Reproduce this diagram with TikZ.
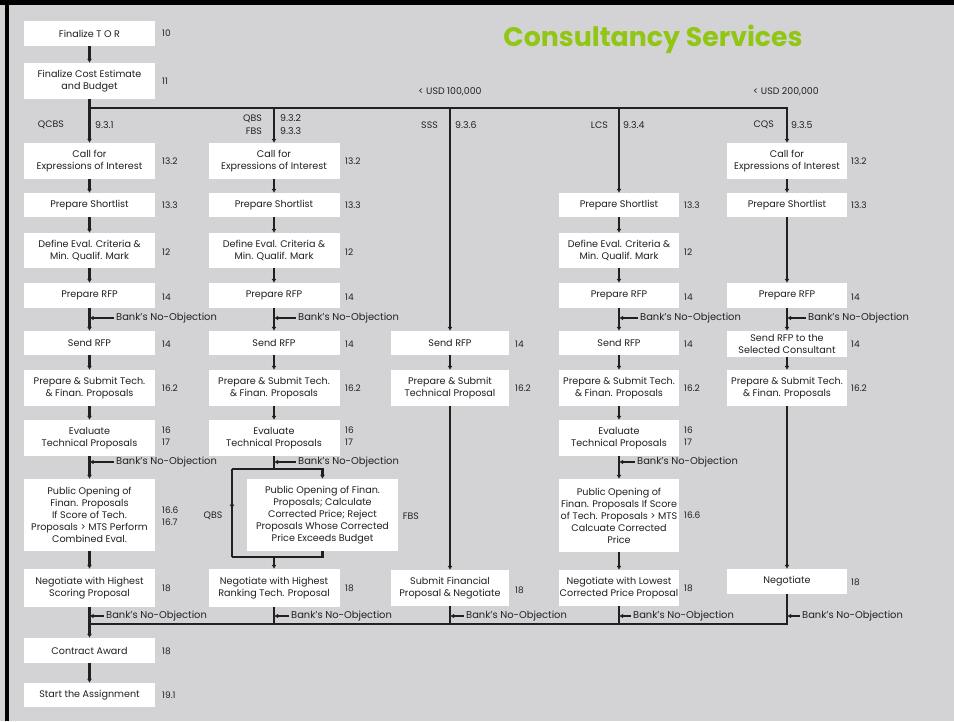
\documentclass[tikz,border=0pt]{standalone}
\usepackage{fontspec}
\setmainfont{Poppins}
\usetikzlibrary{arrows.meta,decorations.markings}
\definecolor{bggray}{RGB}{211,211,213}
\definecolor{titlegreen}{RGB}{145,198,20}
\definecolor{ink}{RGB}{35,31,32}
\begin{document}
\begin{tikzpicture}[x=1pt,y=-1pt,
  box/.style={fill=white,inner sep=0pt,minimum width=131pt,align=center,
    text=ink,font=\fontsize{9.6}{12}\selectfont},
  narrow/.style={minimum width=120pt},
  one/.style={minimum height=25pt},
  two/.style={minimum height=36pt},
  num/.style={anchor=west,inner sep=0pt,align=left,text=ink,
    font=\fontsize{9}{12}\selectfont},
  lab/.style={inner sep=0pt,text=ink,font=\fontsize{9.4}{12.5}\selectfont},
  nobj/.style={anchor=west,inner sep=0pt,text=ink,font=\fontsize{9.9}{12}\selectfont},
  line/.style={draw=ink,line width=2.6pt,line join=miter},
  flow/.style={line,-{Latex[length=4pt,width=5pt]}},
  noarr/.style={draw=ink,line width=1.2pt,shorten <=2pt,-{Latex[length=4pt,width=4.5pt]}},
  midarrow/.style={postaction={decorate},decoration={markings,
    mark=at position 0.45 with {\arrow{Latex[length=4pt,width=5pt]}}}}]
  \useasboundingbox (0,0) rectangle (954,721);
  \fill[bggray] (0,0) rectangle (954,721);
  \fill[black] (0,0) rectangle (954,5);
  \fill[black] (5,0) rectangle (9,721);
  \node[text=titlegreen,font=\fontsize{26.8}{32}\selectfont\bfseries] (title) at (653,39) {Consultancy Services};
  \coordinate (top) at (0,108);
  \coordinate (bot) at (0,624);
  \node[lab] (usd1) at (450,92) {< USD 100,000};
  \node[lab] (usd2) at (786,92) {< USD 200,000};
  % QCBS
  \node[box,one] (tor) at (89.5,33.5) {Finalize T O R};
  \node[num] (torr) at (162,33.5) {10};
  \node[box,two] (cost) at (89.5,81) {Finalize Cost Estimate\\and Budget};
  \node[num] (costr) at (162,81) {11};
  \node[lab,anchor=east] (m1) at (64,125) {QCBS};
  \node[lab,anchor=west] (m1r) at (95,125) {9.3.1};
  \node[box,two] (a1eoi) at (89.5,161) {Call for\\Expressions of Interest};
  \node[num] (a1eoir) at (162,161) {13.2};
  \node[box,one,minimum height=24pt] (a1sl) at (89.5,205) {Prepare Shortlist};
  \node[num] (a1slr) at (162,205) {13.3};
  \node[box,two,minimum height=35pt] (a1crit) at (89.5,250.5) {Define Eval. Criteria \&\\Min. Qualif. Mark};
  \node[num] (a1critr) at (162,252) {12};
  \node[box,one] (a1rfp) at (89.5,295.5) {Prepare RFP};
  \node[num] (a1rfpr) at (162,297) {14};
  \node[box,one,minimum height=24pt] (a1send) at (89.5,343) {Send RFP};
  \node[num] (a1sendr) at (162,344) {14};
  \node[box,two] (a1sub) at (89.5,388) {Prepare \& Submit Tech.\\\& Finan. Proposals};
  \node[num] (a1subr) at (162,388) {16.2};
  \node[box,two] (a1eval) at (89.5,438) {Evaluate\\Technical Proposals};
  \node[num] (a1evalr) at (162,436) {16\\17};
  \node[box,minimum height=72pt] (a1open) at (89.5,515) {Public Opening of\\Finan. Proposals\\If Score of Tech.\\Proposals > MTS Perform\\Combined Eval.};
  \node[num] (a1openr) at (162,516) {16.6\\16.7};
  \node[box,minimum height=38pt] (a1neg) at (89.5,588) {Negotiate with Highest\\Scoring Proposal};
  \node[num] (a1negr) at (162,588) {18};
  \node[box,one] (award) at (89.5,650.5) {Contract Award};
  \node[num] (awardr) at (162,651) {18};
  \node[box,one,minimum height=24pt] (start) at (89.5,695) {Start the Assignment};
  \node[num] (startr) at (162,695) {19.1};
  % QBS / FBS
  \node[lab,anchor=east,align=right] (m2) at (262,124.5) {QBS\\FBS};
  \node[lab,anchor=west,align=left] (m2r) at (280,124.5) {9.3.2\\9.3.3};
  \node[box,two] (a2eoi) at (274,161) {Call for\\Expressions of Interest};
  \node[num] (a2eoir) at (345,161) {13.2};
  \node[box,one,minimum height=24pt] (a2sl) at (274,205) {Prepare Shortlist};
  \node[num] (a2slr) at (345,205) {13.3};
  \node[box,two,minimum height=35pt] (a2crit) at (274,250.5) {Define Eval. Criteria \&\\Min. Qualif. Mark};
  \node[num] (a2critr) at (345,252) {12};
  \node[box,one] (a2rfp) at (274,295.5) {Prepare RFP};
  \node[num] (a2rfpr) at (345,297) {14};
  \node[box,one,minimum height=24pt] (a2send) at (274,343) {Send RFP};
  \node[num] (a2sendr) at (345,344) {14};
  \node[box,two] (a2sub) at (274,388) {Prepare \& Submit Tech.\\\& Finan. Proposals};
  \node[num] (a2subr) at (345,388) {16.2};
  \node[box,two] (a2eval) at (274,438) {Evaluate\\Technical Proposals};
  \node[num] (a2evalr) at (345,436) {16\\17};
  \node[box,minimum width=151pt,minimum height=72pt] (a2open) at (322.5,515) {Public Opening of Finan.\\Proposals; Calculate\\Corrected Price; Reject\\Proposals Whose Corrected\\Price Exceeds Budget};
  \node[lab] (qbs) at (213,516) {QBS};
  \node[lab] (fbs) at (411,516) {FBS};
  \node[box,minimum height=38pt] (a2neg) at (274,588) {Negotiate with Highest\\Ranking Tech. Proposal};
  \node[num] (a2negr) at (345,588) {18};
  \coordinate (q1) at (232,469);
  \coordinate (q2) at (232,557);
  % SSS
  \node[lab,anchor=east] (m3) at (438,125) {SSS};
  \node[lab,anchor=west] (m3r) at (455,125) {9.3.6};
  \node[box,one,minimum width=118pt,minimum height=24pt] (a3send) at (450,343) {Send RFP};
  \node[num] (a3sendr) at (515,344) {14};
  \node[box,two,minimum width=118pt] (a3sub) at (450,388) {Prepare \& Submit\\Technical Proposal};
  \node[num] (a3subr) at (515,388) {16.2};
  \node[box,two,minimum width=118pt] (a3neg) at (450,588) {Submit Financial\\Proposal \& Negotiate};
  \node[num] (a3negr) at (515,590) {18};
  % LCS
  \node[lab,anchor=east] (m4) at (608,125) {LCS};
  \node[lab,anchor=west] (m4r) at (623,125) {9.3.4};
  \node[box,narrow,one,minimum height=24pt] (a4sl) at (619,205) {Prepare Shortlist};
  \node[num] (a4slr) at (684,205) {13.3};
  \node[box,narrow,two,minimum height=35pt] (a4crit) at (619,250.5) {Define Eval. Criteria \&\\Min. Qualif. Mark};
  \node[num] (a4critr) at (684,252) {12};
  \node[box,narrow,one] (a4rfp) at (619,295.5) {Prepare RFP};
  \node[num] (a4rfpr) at (684,297) {14};
  \node[box,narrow,one,minimum height=24pt] (a4send) at (619,343) {Send RFP};
  \node[num] (a4sendr) at (684,344) {14};
  \node[box,narrow,two] (a4sub) at (619,388) {Prepare \& Submit Tech.\\\& Finan. Proposals};
  \node[num] (a4subr) at (684,388) {16.2};
  \node[box,narrow,two] (a4eval) at (619,438) {Evaluate\\Technical Proposals};
  \node[num] (a4evalr) at (684,436) {16\\17};
  \node[box,narrow,minimum height=73pt] (a4open) at (619,515.5) {Public Opening of\\Finan. Proposals If Score\\of Tech. Proposals > MTS\\Calcuate Corrected\\Price};
  \node[num] (a4openr) at (684,515) {16.6};
  \node[box,narrow,two] (a4neg) at (619,588) {Negotiate with Lowest\\Corrected Price Proposal};
  \node[num] (a4negr) at (684,588) {18};
  % CQS
  \node[lab,anchor=east] (m5) at (774,125) {CQS};
  \node[lab,anchor=west] (m5r) at (791,125) {9.3.5};
  \node[box,narrow,two] (a5eoi) at (787,161) {Call for\\Expressions of Interest};
  \node[num] (a5eoir) at (851,161) {13.2};
  \node[box,narrow,one,minimum height=24pt] (a5sl) at (787,205) {Prepare Shortlist};
  \node[num] (a5slr) at (851,205) {13.3};
  \node[box,narrow,one] (a5rfp) at (787,295.5) {Prepare RFP};
  \node[num] (a5rfpr) at (851,297) {14};
  \node[box,narrow,minimum height=26pt] (a5send) at (787,344) {Send RFP to the\\Selected Consultant};
  \node[num] (a5sendr) at (851,344) {14};
  \node[box,narrow,two] (a5sub) at (787,388) {Prepare \& Submit Tech.\\\& Finan. Proposals};
  \node[num] (a5subr) at (851,388) {16.2};
  \node[box,narrow,one] (a5neg) at (787,581.5) {Negotiate};
  \node[num] (a5negr) at (851,582) {18};
  % Bank's No-Objection
  \node[nobj] (b1a) at (116,318) {Bank’s No-Objection};
  \node[nobj] (b1b) at (116,462) {Bank’s No-Objection};
  \node[nobj] (b1c) at (106,616) {Bank’s No-Objection};
  \node[nobj] (b2a) at (298,318) {Bank’s No-Objection};
  \node[nobj] (b2b) at (298,462) {Bank’s No-Objection};
  \node[nobj] (b2c) at (291,616) {Bank’s No-Objection};
  \node[nobj] (b3c) at (466,616) {Bank’s No-Objection};
  \node[nobj] (b4a) at (640,318) {Bank’s No-Objection};
  \node[nobj] (b4b) at (637,462) {Bank’s No-Objection};
  \node[nobj] (b4c) at (633,616) {Bank’s No-Objection};
  \node[nobj] (b5a) at (808,318) {Bank’s No-Objection};
  \node[nobj] (b5c) at (802,616) {Bank’s No-Objection};
  % connectors
  \draw[flow] (tor) -- (cost);
  \draw[flow] (cost) -- (a1eoi);
  \draw[flow] (cost.south |- top) -| (a5eoi.north);
  \draw[flow] (a2eoi.north |- top) -- (a2eoi);
  \draw[flow] (a3send.north |- top) -- (a3send);
  \draw[flow] (a4sl.north |- top) -- (a4sl);
  \draw[flow] (a1eoi) -- (a1sl);
  \draw[flow] (a1sl) -- (a1crit);
  \draw[flow] (a1crit) -- (a1rfp);
  \draw[flow] (a1rfp) -- (a1send);
  \draw[flow] (a1send) -- (a1sub);
  \draw[flow] (a1sub) -- (a1eval);
  \draw[flow] (a1eval) -- (a1open);
  \draw[flow] (a1open) -- (a1neg);
  \draw[flow] (a1neg) -- (award);
  \draw[flow] (award) -- (start);
  \draw[flow] (a2eoi) -- (a2sl);
  \draw[flow] (a2sl) -- (a2crit);
  \draw[flow] (a2crit) -- (a2rfp);
  \draw[flow] (a2rfp) -- (a2send);
  \draw[flow] (a2send) -- (a2sub);
  \draw[flow] (a2sub) -- (a2eval);
  \draw[line] (a2eval.south) -- (a2eval.south |- q1);
  \draw[flow] (q1) -| (a2open.north);
  \draw[line,midarrow] (q1) -- (q2);
  \draw[line] (q2) -| (a2open.south);
  \draw[flow] (a2eval.south |- q2) -- (a2neg);
  \draw[flow] (a3send) -- (a3sub);
  \draw[flow] (a3sub) -- (a3neg);
  \draw[flow] (a4sl) -- (a4crit);
  \draw[flow] (a4crit) -- (a4rfp);
  \draw[flow] (a4rfp) -- (a4send);
  \draw[flow] (a4send) -- (a4sub);
  \draw[flow] (a4sub) -- (a4eval);
  \draw[flow] (a4eval) -- (a4open);
  \draw[flow] (a4open) -- (a4neg);
  \draw[flow] (a5eoi) -- (a5sl);
  \draw[flow] (a5sl) -- (a5rfp);
  \draw[flow] (a5rfp) -- (a5send);
  \draw[flow] (a5send) -- (a5sub);
  \draw[flow] (a5sub) -- (a5neg);
  \draw[line,line width=2pt] (a5neg.south) |- (a1neg.south |- bot);
  \draw[line] (a2neg.south) -- (a2neg.south |- bot);
  \draw[line] (a3neg.south) -- (a3neg.south |- bot);
  \draw[line] (a4neg.south) -- (a4neg.south |- bot);
  \draw[noarr] (b1a.west) -- (a1rfp.south |- b1a.west);
  \draw[noarr] (b1b.west) -- (a1rfp.south |- b1b.west);
  \draw[noarr] (b1c.west) -- (a1rfp.south |- b1c.west);
  \draw[noarr] (b2a.west) -- (a2rfp.south |- b2a.west);
  \draw[noarr] (b2b.west) -- (a2rfp.south |- b2b.west);
  \draw[noarr] (b2c.west) -- (a2rfp.south |- b2c.west);
  \draw[noarr] (b3c.west) -- (a3neg.south |- b3c.west);
  \draw[noarr] (b4a.west) -- (a4rfp.south |- b4a.west);
  \draw[noarr] (b4b.west) -- (a4rfp.south |- b4b.west);
  \draw[noarr] (b4c.west) -- (a4rfp.south |- b4c.west);
  \draw[noarr] (b5a.west) -- (a5rfp.south |- b5a.west);
  \draw[noarr] (b5c.west) -- (a5rfp.south |- b5c.west);
\end{tikzpicture}
\end{document}
